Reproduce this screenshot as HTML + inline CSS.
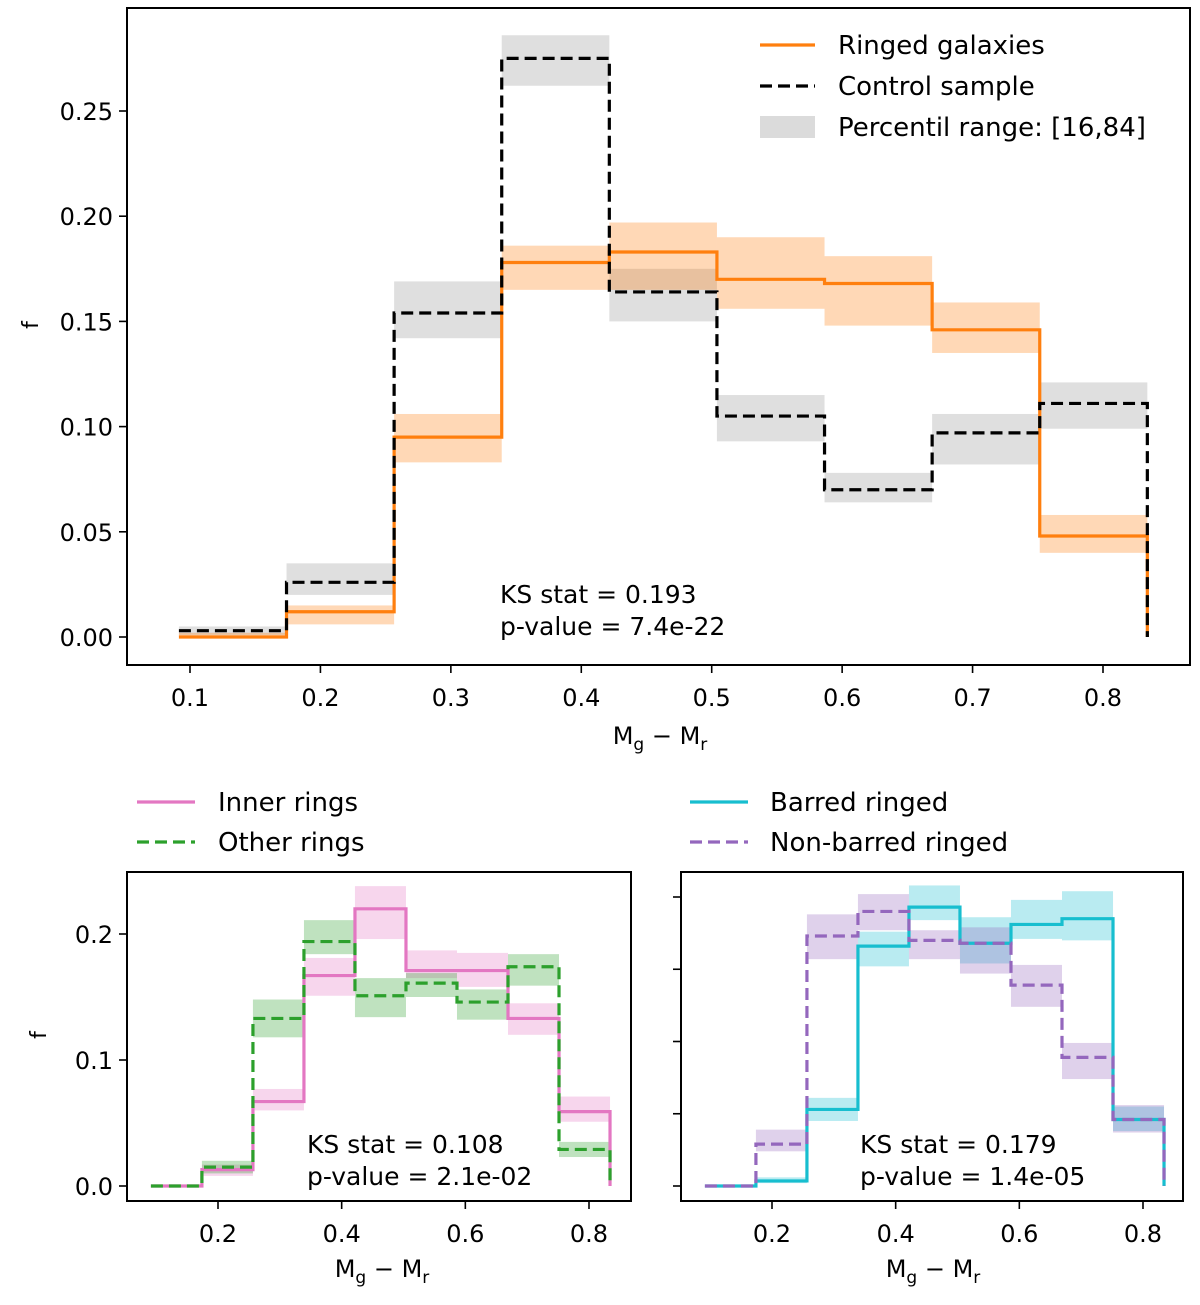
<!DOCTYPE html>
<html><head><meta charset="utf-8"><style>
body{margin:0;background:#fff}
svg text{font-family:"DejaVu Sans","Liberation Sans",sans-serif;fill:#000}
</style></head><body>
<svg id="fig" width="1200" height="1300" xmlns="http://www.w3.org/2000/svg"></svg>
<script>
const edges=[0.0915,0.174,0.2565,0.339,0.4215,0.504,0.5865,0.669,0.7515,0.834];
const topX=[0.1,0.2,0.3,0.4,0.5,0.6,0.7,0.8];
const topYT=[0,0.05,0.1,0.15,0.2,0.25];
const botX=[0.2,0.4,0.6,0.8];
const botYL=[0,0.1,0.2];
const botYR=[0,0.05,0.1,0.15,0.2];
const ringed=[0.0,0.012,0.095,0.178,0.183,0.170,0.168,0.146,0.048];
const ringedLo=[0.0,0.006,0.083,0.165,0.165,0.156,0.148,0.135,0.040];
const ringedHi=[0.002,0.015,0.106,0.186,0.197,0.190,0.181,0.159,0.058];
const control=[0.003,0.026,0.154,0.275,0.164,0.105,0.070,0.097,0.111];
const controlLo=[0.001,0.020,0.142,0.262,0.150,0.093,0.064,0.082,0.099];
const controlHi=[0.005,0.035,0.169,0.286,0.175,0.115,0.078,0.106,0.121];
const inner=[0,0.013,0.067,0.167,0.220,0.171,0.171,0.133,0.059];
const innerLo=[0,0.008,0.060,0.151,0.196,0.165,0.158,0.120,0.051];
const innerHi=[0,0.017,0.077,0.181,0.238,0.187,0.185,0.145,0.071];
const other=[0,0.015,0.133,0.194,0.151,0.161,0.146,0.174,0.029];
const otherLo=[0,0.010,0.118,0.184,0.134,0.150,0.132,0.159,0.023];
const otherHi=[0,0.020,0.148,0.211,0.165,0.169,0.156,0.184,0.035];
const barred=[0,0.0035,0.053,0.166,0.193,0.168,0.181,0.185,0.046];
const barredLo=[0,0.002,0.045,0.152,0.184,0.154,0.171,0.170,0.038];
const barredHi=[0,0.006,0.061,0.176,0.208,0.186,0.198,0.204,0.055];
const nonbar=[0,0.029,0.173,0.190,0.170,0.168,0.139,0.089,0.046];
const nonbarLo=[0,0.024,0.157,0.177,0.157,0.147,0.124,0.074,0.037];
const nonbarHi=[0,0.039,0.188,0.202,0.177,0.179,0.153,0.099,0.056];

const svg=document.getElementById('fig');
const NS='http://www.w3.org/2000/svg';
function mk(tag,attrs,parent){const e=document.createElementNS(NS,tag);for(const k in attrs)e.setAttribute(k,attrs[k]);(parent||svg).appendChild(e);return e;}
function txt(s,x,y,size,anchor,name,parent){const t=mk('text',{x:x,y:y,'font-size':size,'text-anchor':anchor||'start'},parent);t.textContent=s;return t;}
function lin(p0,v0,p1,v1){return v=>p0+(v-v0)*(p1-p0)/(v1-v0);}

function axes(name,box,sx,sy,xt,yt,ylab,fmt){
  const g=mk('g',{});
  
  
  return {g,sx,sy,box,finish(){
    const r=mk('rect',{x:box.x0,y:box.y0,width:box.x1-box.x0,height:box.y1-box.y0,fill:'none',stroke:'#000','stroke-width':2},g);
    
    
    xt.forEach(v=>{const x=sx(v);mk('line',{x1:x,x2:x,y1:box.y1,y2:box.y1+8,stroke:'#000','stroke-width':1.6},g);
      txt(v.toFixed(1),x,box.y1+41,24,'middle','x-tick-label',g);});
    yt.forEach(v=>{const y=sy(v);mk('line',{x1:box.x0,x2:box.x0-8,y1:y,y2:y,stroke:'#000','stroke-width':1.6},g);
      if(ylab)txt(v.toFixed(fmt),box.x0-14,y+9,24,'end','y-tick-label',g);});
  }};
}
function band(ax,lo,hi,color,op,name){
  for(let i=0;i<lo.length;i++){
    const y0=ax.sy(hi[i]),y1=ax.sy(lo[i]);
    const r=mk('rect',{x:ax.sx(edges[i]),y:y0,width:ax.sx(edges[i+1])-ax.sx(edges[i]),height:Math.max(y1-y0,0.5),fill:color,'fill-opacity':op},ax.g);
    
    
  }
}
function step(ax,vals,color,dash,name){
  let d='M'+ax.sx(edges[0])+','+ax.sy(vals[0]);
  for(let i=0;i<vals.length;i++){
    d+=' L'+ax.sx(edges[i])+','+ax.sy(vals[i])+' L'+ax.sx(edges[i+1])+','+ax.sy(vals[i]);
  }
  d+=' L'+ax.sx(edges[vals.length])+','+ax.sy(0);
  const p=mk('path',{d:d,fill:'none',stroke:color,'stroke-width':3.2,'stroke-dasharray':dash||'none'},ax.g);
  
  
}
function xtitle(x,y,name){const t=txt('',x,y,24,'middle',name);t.innerHTML='M<tspan font-size="17" dy="6">g</tspan><tspan dy="-6"> − M</tspan><tspan font-size="17" dy="6">r</tspan>';}

// top
const A=axes('main-axes',{x0:127,x1:1190,y0:8,y1:665},lin(190,0.1,1103,0.8),lin(637,0,111,0.25),topX,topYT,true,2);
band(A,controlLo,controlHi,'#b0b0b0',0.4,'control-band');
band(A,ringedLo,ringedHi,'#ff7f0e',0.3,'ringed-band');
step(A,ringed,'#ff7f0e',null,'ringed-line');
step(A,control,'#000','12,6','control-line');
A.finish();
txt('KS stat = 0.193',500,603,25,'start','ks-stat-top');
txt('p-value = 7.4e-22',500,635,25,'start','p-value-top');
const yl=txt('f',30,333,22,'middle','y-axis-title-top');yl.setAttribute('transform','rotate(-90 30 325)');
xtitle(660,744,'x-axis-title-top');
// top legend
const lg=mk('g',{});
mk('line',{x1:760,x2:815,y1:45,y2:45,stroke:'#ff7f0e','stroke-width':3.2},lg);
mk('line',{x1:760,x2:815,y1:86,y2:86,stroke:'#000','stroke-width':3.2,'stroke-dasharray':'12,6'},lg);
mk('rect',{x:760,y:116,width:55,height:22,fill:'#b0b0b0','fill-opacity':0.45},lg);
txt('Ringed galaxies',838,54,26,'start','legend-entry-ringed',lg);
txt('Control sample',838,95,26,'start','legend-entry-control',lg);
txt('Percentil range: [16,84]',838,136,26,'start','legend-entry-percentile',lg);

// bottom left
const B=axes('inner-other-axes',{x0:127,x1:631,y0:872,y1:1201},lin(218,0.2,589,0.8),lin(1186,0,934,0.2),botX,botYL,true,1);
band(B,innerLo,innerHi,'#e377c2',0.3,'inner-band');
band(B,otherLo,otherHi,'#2ca02c',0.3,'other-band');
step(B,inner,'#e377c2',null,'inner-line');
step(B,other,'#2ca02c','12,6','other-line');
B.finish();
txt('KS stat = 0.108',307,1153,25,'start','ks-stat-left');
txt('p-value = 2.1e-02',307,1185,25,'start','p-value-left');
const yl2=txt('f',38,1043,22,'middle','y-axis-title-bottom');yl2.setAttribute('transform','rotate(-90 38 1035)');
xtitle(382,1277,'x-axis-title-left');
const l2=mk('g',{});
mk('line',{x1:137,x2:195,y1:802,y2:802,stroke:'#e377c2','stroke-width':3.2},l2);
mk('line',{x1:137,x2:195,y1:842,y2:842,stroke:'#2ca02c','stroke-width':3.2,'stroke-dasharray':'12,6'},l2);
txt('Inner rings',218,811,26,'start','legend-entry-inner',l2);
txt('Other rings',218,851,26,'start','legend-entry-other',l2);

// bottom right
const C=axes('barred-axes',{x0:681,x1:1183,y0:872,y1:1201},lin(772,0.2,1143,0.8),lin(1186,0,897,0.2),botX,botYR,false,2);
band(C,barredLo,barredHi,'#17becf',0.3,'barred-band');
band(C,nonbarLo,nonbarHi,'#9467bd',0.3,'nonbarred-band');
step(C,barred,'#17becf',null,'barred-line');
step(C,nonbar,'#9467bd','12,6','nonbarred-line');
C.finish();
txt('KS stat = 0.179',860,1153,25,'start','ks-stat-right');
txt('p-value = 1.4e-05',860,1185,25,'start','p-value-right');
xtitle(933,1277,'x-axis-title-right');
const l3=mk('g',{});
mk('line',{x1:690,x2:748,y1:802,y2:802,stroke:'#17becf','stroke-width':3.2},l3);
mk('line',{x1:690,x2:748,y1:842,y2:842,stroke:'#9467bd','stroke-width':3.2,'stroke-dasharray':'12,6'},l3);
txt('Barred ringed',770,811,26,'start','legend-entry-barred',l3);
txt('Non-barred ringed',770,851,26,'start','legend-entry-nonbarred',l3);
</script>
</body></html>
